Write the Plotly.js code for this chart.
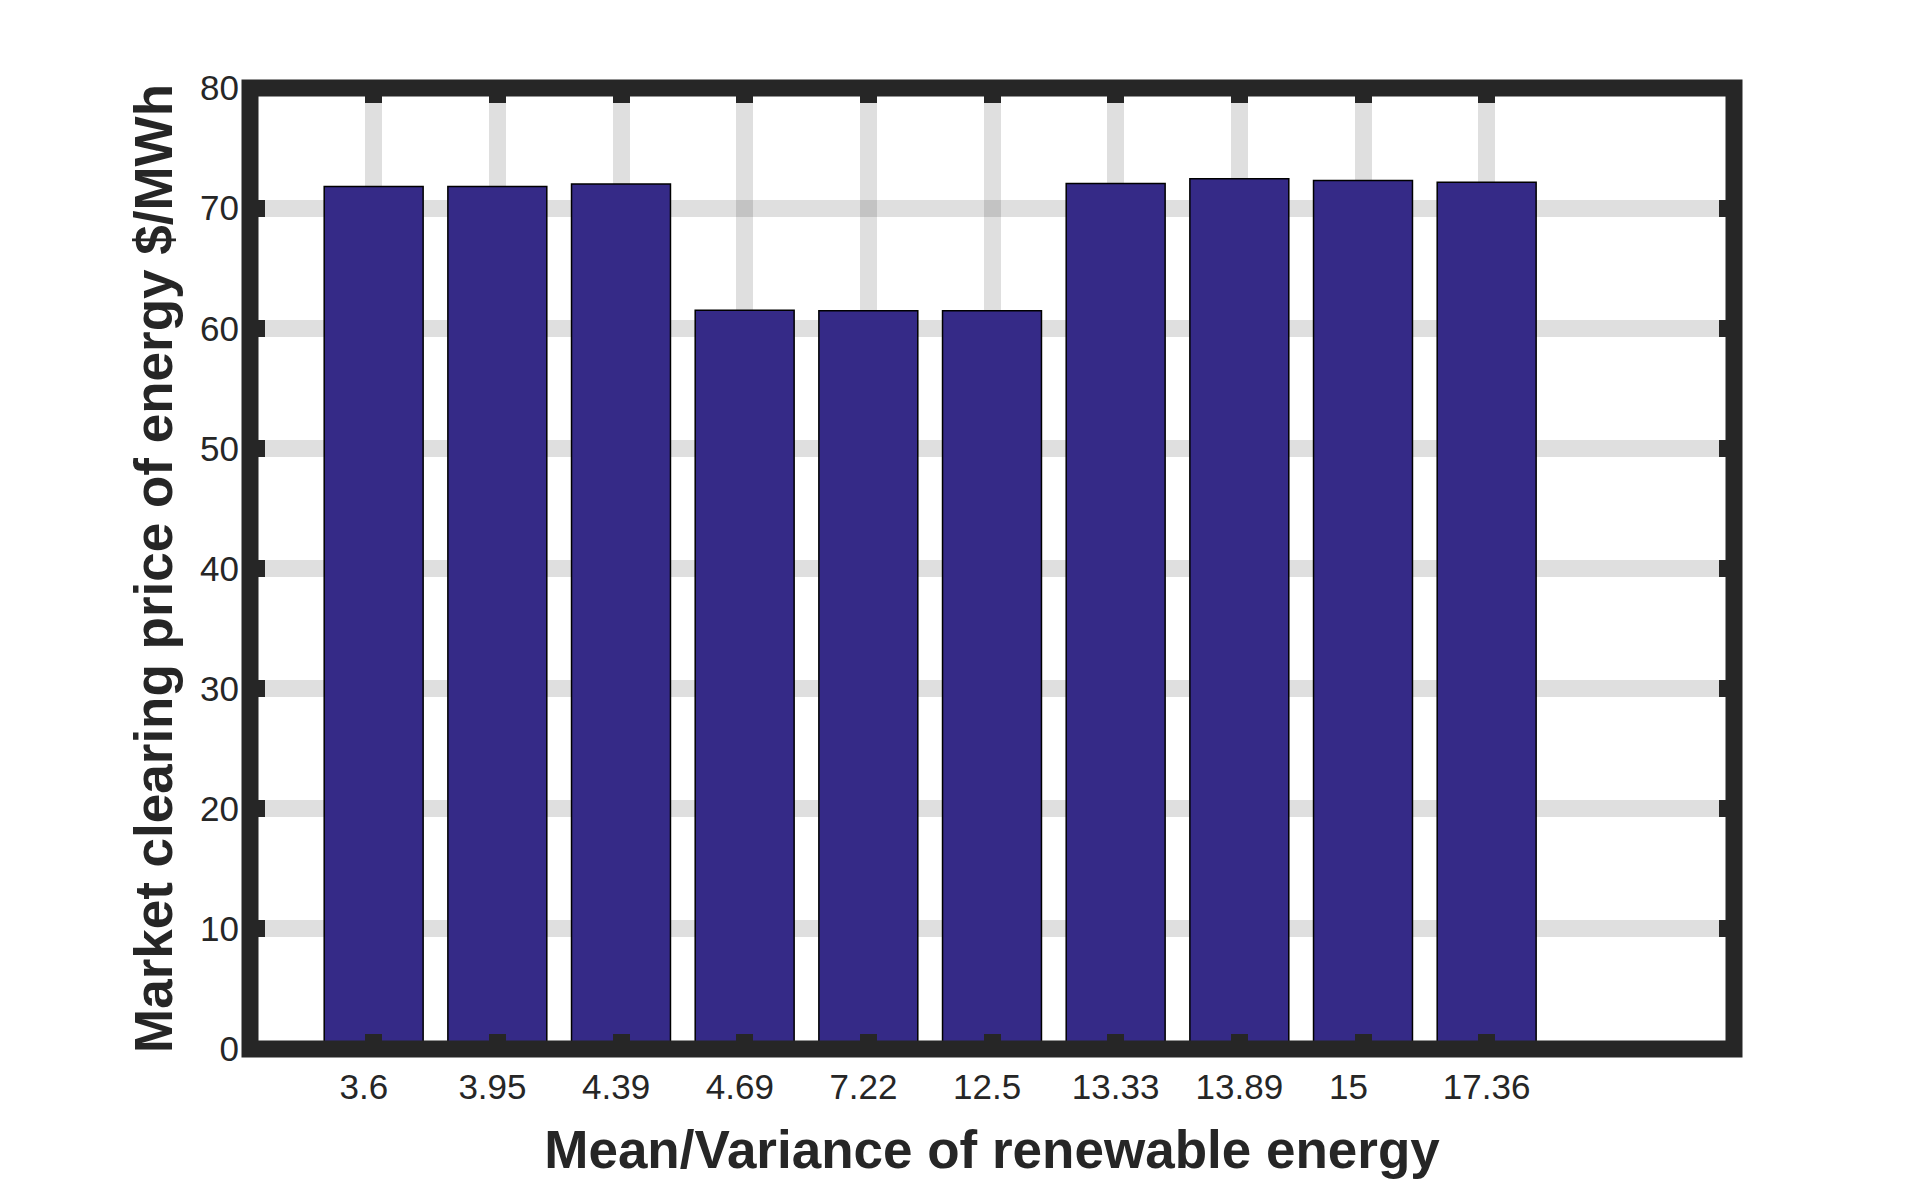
<!DOCTYPE html>
<html>
<head>
<meta charset="utf-8">
<script src="https://cdn.plot.ly/plotly-3.0.1.min.js"></script>
<style>
html,body{margin:0;padding:0;background:#fff;}
#chart{width:1916px;height:1179px;}
</style>
</head>
<body>
<div id="chart"></div>
<script>
const categories = ["3.6","3.95","4.39","4.69","7.22","12.5","13.33","13.89","15","17.36"];
const prices = [71.8, 71.8, 72.0, 61.5, 61.45, 61.45, 72.05, 72.45, 72.3, 72.15];
const yTickVals = [0,10,20,30,40,50,60,70,80];
const xTitle = "Mean/Variance of renewable energy";
const yTitle = "Market clearing price of energy $/MWh";

// tick labels in the original are padded to a common width with trailing blanks
const xTickText = categories.map(c => c.padEnd(5, "\u00a0"));

const FONT = "Liberation Sans, Arial, Helvetica, sans-serif";
const DARK = "#262626";

const trace = {
  type: "bar",
  x: categories,
  y: prices,
  width: 0.8,
  marker: {color: "#352a87", line: {color: "#000000", width: 1.5}},
  hoverinfo: "x+y"
};

const layout = {
  width: 1916,
  height: 1179,
  margin: {l: 250, r: 182, t: 88, b: 130, pad: 0},
  paper_bgcolor: "#ffffff",
  plot_bgcolor: "#ffffff",
  showlegend: false,
  bargap: 0.2,
  xaxis: {
    type: "category",
    range: [-1, 11],
    tickvals: categories,
    ticktext: xTickText,
    ticks: "inside",
    ticklen: 15,
    tickwidth: 17,
    tickcolor: DARK,
    mirror: "ticks",
    showline: false,
    showgrid: true,
    gridcolor: "rgba(0,0,0,0.125)",
    gridwidth: 17,
    zeroline: false,
    tickfont: {family: FONT, size: 35, color: DARK},
    ticklabelstandoff: 14,
    title: {text: xTitle, font: {family: FONT, size: 53, color: DARK, weight: "bold"}, standoff: 25}
  },
  yaxis: {
    range: [0, 80],
    tickvals: yTickVals,
    ticks: "inside",
    ticklen: 15,
    tickwidth: 17,
    tickcolor: DARK,
    mirror: "ticks",
    showline: false,
    showgrid: true,
    gridcolor: "rgba(0,0,0,0.125)",
    gridwidth: 17,
    zeroline: false,
    tickfont: {family: FONT, size: 35, color: DARK},
    ticklabelstandoff: 10,
    title: {text: yTitle, font: {family: FONT, size: 53, color: DARK, weight: "bold"}, standoff: 10}
  },
  shapes: [{
    type: "rect", xref: "paper", yref: "paper",
    x0: 0, x1: 1, y0: 0, y1: 1,
    line: {color: DARK, width: 17},
    fillcolor: "rgba(0,0,0,0)",
    layer: "above"
  }]
};

Plotly.newPlot("chart", [trace], layout, {displayModeBar: false, staticPlot: true});
</script>
</body>
</html>
